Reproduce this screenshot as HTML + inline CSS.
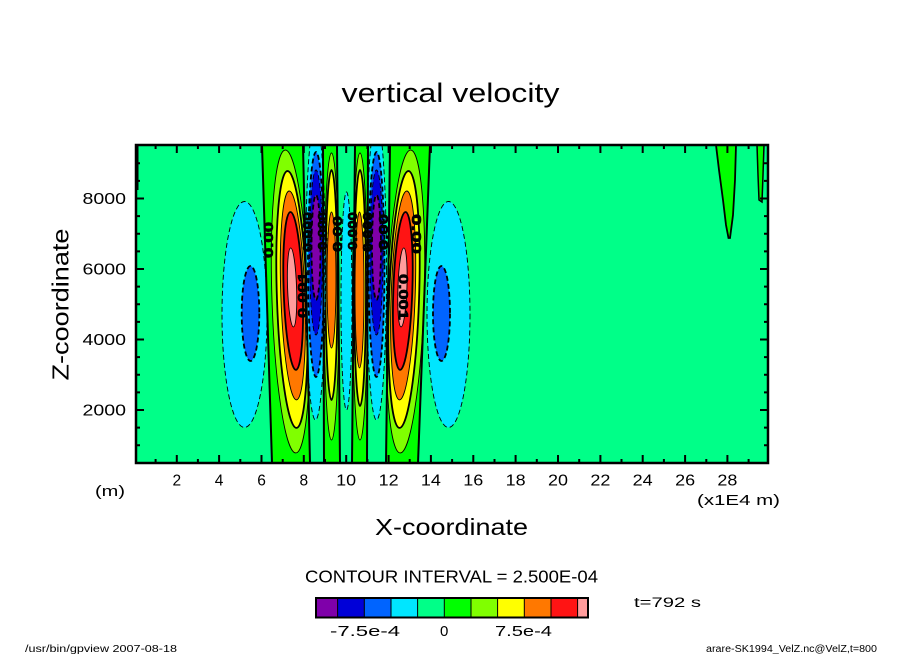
<!DOCTYPE html>
<html><head><meta charset="utf-8"><style>
html,body{margin:0;padding:0;background:#fff;}
svg{display:block;}
text{font-family:"Liberation Sans",sans-serif;fill:#000;}
</style></head><body>
<svg width="904" height="654" viewBox="0 0 904 654" xmlns="http://www.w3.org/2000/svg">
<defs><clipPath id="pc"><rect x="136" y="145" width="632" height="318"/></clipPath></defs>
<rect width="904" height="654" fill="#fff"/>
<text x="341.5" y="102" font-size="27" textLength="218" lengthAdjust="spacingAndGlyphs">vertical velocity</text>

<g clip-path="url(#pc)">
<rect x="136" y="145" width="632" height="318" fill="#00ff88"/>
<ellipse cx="244.5" cy="314.5" rx="22.5" ry="113" fill="#00e6ff" stroke="#000" stroke-width="0.9" stroke-dasharray="5,3"/>
<ellipse cx="250.5" cy="313.5" rx="8.8" ry="47.5" fill="#0064ff" stroke="#000" stroke-width="1.8" stroke-dasharray="5,3"/>
<ellipse cx="448.5" cy="314.5" rx="21.5" ry="113" fill="#00e6ff" stroke="#000" stroke-width="0.9" stroke-dasharray="5,3"/>
<ellipse cx="441.5" cy="313.5" rx="8.5" ry="47.5" fill="#0064ff" stroke="#000" stroke-width="1.8" stroke-dasharray="5,3"/>
<polygon points="262,145 303,145 310,463 272,463" fill="#00ff00"/>
<polygon points="323,145 337,145 340,463 324,463" fill="#00ff00"/>
<polygon points="355,145 368,145 367,463 352,463" fill="#00ff00"/>
<polygon points="390,145 430,145 418,463 386,463" fill="#00ff00"/>
<g transform="rotate(-2 291 300)">
<ellipse cx="290.5" cy="301.5" rx="18.5" ry="151.5" fill="#80ff00" stroke="#000" stroke-width="0.9"/>
<ellipse cx="292" cy="299.5" rx="15" ry="128.5" fill="#ffff00" stroke="#000" stroke-width="1.8"/>
<ellipse cx="293" cy="295.5" rx="12" ry="104.5" fill="#ff7800" stroke="#000" stroke-width="0.9"/>
<ellipse cx="293.5" cy="291" rx="9.5" ry="79" fill="#ff1414" stroke="#000" stroke-width="1.8"/>
<ellipse cx="292.5" cy="287.5" rx="4.5" ry="39.5" fill="#ff9c9c" stroke="#000" stroke-width="0.9"/>
</g>
<g transform="rotate(2 405 300)">
<ellipse cx="405.5" cy="301.5" rx="18.5" ry="151.5" fill="#80ff00" stroke="#000" stroke-width="0.9"/>
<ellipse cx="404" cy="299.5" rx="15" ry="128.5" fill="#ffff00" stroke="#000" stroke-width="1.8"/>
<ellipse cx="403" cy="295.5" rx="12" ry="104.5" fill="#ff7800" stroke="#000" stroke-width="0.9"/>
<ellipse cx="402.5" cy="291" rx="9.5" ry="79" fill="#ff1414" stroke="#000" stroke-width="1.8"/>
<ellipse cx="402" cy="287.5" rx="4.5" ry="39.5" fill="#ff9c9c" stroke="#000" stroke-width="0.9"/>
</g>
<ellipse cx="331.5" cy="296.5" rx="7.5" ry="143.5" fill="#80ff00" stroke="#000" stroke-width="0.9"/>
<ellipse cx="331.5" cy="285" rx="6" ry="115" fill="#ffff00" stroke="#000" stroke-width="1.8"/>
<ellipse cx="331.5" cy="280" rx="4.5" ry="68" fill="#ff7800" stroke="#000" stroke-width="0.9"/>
<ellipse cx="360" cy="296.5" rx="7.5" ry="143.5" fill="#80ff00" stroke="#000" stroke-width="0.9"/>
<ellipse cx="360" cy="288" rx="6" ry="118" fill="#ffff00" stroke="#000" stroke-width="1.8"/>
<ellipse cx="359.5" cy="290" rx="4.5" ry="78" fill="#ff7800" stroke="#000" stroke-width="0.9"/>
<ellipse cx="315.5" cy="270" rx="10" ry="150" fill="#00e6ff" stroke="#000" stroke-width="0.9" stroke-dasharray="5,3"/>
<ellipse cx="316" cy="264.5" rx="8" ry="112.5" fill="#0064ff" stroke="#000" stroke-width="1.8" stroke-dasharray="5,3"/>
<ellipse cx="316" cy="252.5" rx="6.5" ry="82.5" fill="#0000d8" stroke="#000" stroke-width="0.9" stroke-dasharray="5,3"/>
<ellipse cx="316" cy="247.5" rx="4.5" ry="52.5" fill="#7f00aa" stroke="#000" stroke-width="1.8" stroke-dasharray="5,3"/>
<ellipse cx="376.5" cy="270" rx="10" ry="150" fill="#00e6ff" stroke="#000" stroke-width="0.9" stroke-dasharray="5,3"/>
<ellipse cx="376.5" cy="264.5" rx="8" ry="112.5" fill="#0064ff" stroke="#000" stroke-width="1.8" stroke-dasharray="5,3"/>
<ellipse cx="376.5" cy="252.5" rx="6.5" ry="82.5" fill="#0000d8" stroke="#000" stroke-width="0.9" stroke-dasharray="5,3"/>
<ellipse cx="376.5" cy="247.5" rx="4.5" ry="52.5" fill="#7f00aa" stroke="#000" stroke-width="1.8" stroke-dasharray="5,3"/>
<ellipse cx="346.5" cy="301" rx="5.5" ry="109" fill="#00e6ff" stroke="#000" stroke-width="0.9" stroke-dasharray="5,3"/>
<g stroke="#000" stroke-width="2" fill="none">
<path d="M262 145L272 463M303 145L310 463M323 145L324 463M337 145L340 463M355 145L352 463M368 145L367 463M390 145L386 463M430 145L418 463"/>
<path d="M137.5 145V190"/>
</g>
<path d="M716 145L719 170L723 200L726 225L728.5 238L730 238L733 215L735 180L736 145Z" fill="#00ff00" stroke="#000" stroke-width="1.8"/>
<path d="M757 145L758 175L759 200L762 202L763 175L764 145Z" fill="#00ff00" stroke="#000" stroke-width="1.5"/>
<g font-size="13" font-weight="bold" stroke="#000" stroke-width="0.6">
<text transform="translate(273,258) rotate(-90)" textLength="36" lengthAdjust="spacingAndGlyphs">0.00</text>
<text transform="translate(307,318) rotate(-90)" textLength="46" lengthAdjust="spacingAndGlyphs">0.001</text>
<text transform="translate(399,274) rotate(90)" textLength="46" lengthAdjust="spacingAndGlyphs">0.001</text>
<text transform="translate(412,214) rotate(90)" textLength="40" lengthAdjust="spacingAndGlyphs">0.00</text>
<text transform="translate(312,252) rotate(-90)" textLength="40" lengthAdjust="spacingAndGlyphs">0.000</text>
<text transform="translate(327,250) rotate(-90)" textLength="38" lengthAdjust="spacingAndGlyphs">0.000</text>
<text transform="translate(342,252) rotate(-90)" textLength="36" lengthAdjust="spacingAndGlyphs">0.00</text>
<text transform="translate(357,250) rotate(-90)" textLength="38" lengthAdjust="spacingAndGlyphs">0.000</text>
<text transform="translate(372,252) rotate(-90)" textLength="40" lengthAdjust="spacingAndGlyphs">0.000</text>
<text transform="translate(388,250) rotate(-90)" textLength="36" lengthAdjust="spacingAndGlyphs">0.00</text>
</g>
</g>

<rect x="136" y="145" width="632" height="318" fill="none" stroke="#000" stroke-width="2.5"/>
<path stroke="#000" stroke-width="2" fill="none" d="
M155.6 463v-4M155.6 145v4M197.9 463v-4M197.9 145v4M240.3 463v-4M240.3 145v4M282.7 463v-4M282.7 145v4M325 463v-4M325 145v4M367.4 463v-4M367.4 145v4M409.7 463v-4M409.7 145v4M452.1 463v-4M452.1 145v4M494.5 463v-4M494.5 145v4M536.8 463v-4M536.8 145v4M579.2 463v-4M579.2 145v4M621.5 463v-4M621.5 145v4M663.9 463v-4M663.9 145v4M706.3 463v-4M706.3 145v4M748.6 463v-4M748.6 145v4
M176.8 463v-8M176.8 145v8M219.1 463v-8M219.1 145v8M261.5 463v-8M261.5 145v8M303.8 463v-8M303.8 145v8M346.2 463v-8M346.2 145v8M388.6 463v-8M388.6 145v8M430.9 463v-8M430.9 145v8M473.3 463v-8M473.3 145v8M515.6 463v-8M515.6 145v8M558 463v-8M558 145v8M600.4 463v-8M600.4 145v8M642.7 463v-8M642.7 145v8M685.1 463v-8M685.1 145v8M727.4 463v-8M727.4 145v8
M136 445.3h4M768 445.3h-4M136 427.6h4M768 427.6h-4M136 392.4h4M768 392.4h-4M136 374.8h4M768 374.8h-4M136 357.1h4M768 357.1h-4M136 321.9h4M768 321.9h-4M136 304.3h4M768 304.3h-4M136 286.6h4M768 286.6h-4M136 251.4h4M768 251.4h-4M136 233.8h4M768 233.8h-4M136 216.1h4M768 216.1h-4M136 180.9h4M768 180.9h-4M136 163.3h4M768 163.3h-4
M136 410h8M768 410h-8M136 339.5h8M768 339.5h-8M136 269h8M768 269h-8M136 198.5h8M768 198.5h-8"/>

<g font-size="15.5">
<text x="82.5" y="204" textLength="43.5" lengthAdjust="spacingAndGlyphs">8000</text>
<text x="82.5" y="274.5" textLength="43.5" lengthAdjust="spacingAndGlyphs">6000</text>
<text x="82.5" y="345" textLength="43.5" lengthAdjust="spacingAndGlyphs">4000</text>
<text x="82.5" y="415.5" textLength="43.5" lengthAdjust="spacingAndGlyphs">2000</text>
</g>
<g font-size="15.5" text-anchor="middle">
<text x="176.8" y="485.5">2</text>
<text x="219.1" y="485.5">4</text>
<text x="261.5" y="485.5">6</text>
<text x="303.8" y="485.5">8</text>
<text x="346.2" y="485.5" textLength="20" lengthAdjust="spacingAndGlyphs">10</text>
<text x="388.6" y="485.5" textLength="20" lengthAdjust="spacingAndGlyphs">12</text>
<text x="430.9" y="485.5" textLength="20" lengthAdjust="spacingAndGlyphs">14</text>
<text x="473.3" y="485.5" textLength="20" lengthAdjust="spacingAndGlyphs">16</text>
<text x="515.6" y="485.5" textLength="20" lengthAdjust="spacingAndGlyphs">18</text>
<text x="558" y="485.5" textLength="20" lengthAdjust="spacingAndGlyphs">20</text>
<text x="600.4" y="485.5" textLength="20" lengthAdjust="spacingAndGlyphs">22</text>
<text x="642.7" y="485.5" textLength="20" lengthAdjust="spacingAndGlyphs">24</text>
<text x="685.1" y="485.5" textLength="20" lengthAdjust="spacingAndGlyphs">26</text>
<text x="727.4" y="485.5" textLength="20" lengthAdjust="spacingAndGlyphs">28</text>
</g>
<text x="95" y="496" font-size="15" textLength="30" lengthAdjust="spacingAndGlyphs">(m)</text>
<text x="697" y="505" font-size="15" textLength="83" lengthAdjust="spacingAndGlyphs">(x1E4 m)</text>
<text x="375" y="535" font-size="23.5" textLength="153" lengthAdjust="spacingAndGlyphs">X-coordinate</text>
<text transform="translate(68.3,380.5) rotate(-90)" font-size="23.5" textLength="152" lengthAdjust="spacingAndGlyphs">Z-coordinate</text>

<text x="305" y="582.7" font-size="17.5" textLength="293" lengthAdjust="spacingAndGlyphs">CONTOUR INTERVAL = 2.500E-04</text>
<text x="634" y="607" font-size="13.5" textLength="67" lengthAdjust="spacingAndGlyphs">t=792 s</text>

<rect x="316" y="598" width="21.6" height="19.5" fill="#7f00aa"/>
<rect x="337.6" y="598" width="26.7" height="19.5" fill="#0000d8"/>
<rect x="364.3" y="598" width="26.7" height="19.5" fill="#0064ff"/>
<rect x="391" y="598" width="26.6" height="19.5" fill="#00e6ff"/>
<rect x="417.6" y="598" width="26.7" height="19.5" fill="#00ff88"/>
<rect x="444.3" y="598" width="26.7" height="19.5" fill="#00ff00"/>
<rect x="471" y="598" width="26.6" height="19.5" fill="#80ff00"/>
<rect x="497.6" y="598" width="26.7" height="19.5" fill="#ffff00"/>
<rect x="524.3" y="598" width="26.7" height="19.5" fill="#ff7800"/>
<rect x="551" y="598" width="26.6" height="19.5" fill="#ff1414"/>
<rect x="577.6" y="598" width="10.4" height="19.5" fill="#ff9c9c"/>
<path stroke="#000" stroke-width="1" d="M337.6 598v19.5M364.3 598v19.5M391 598v19.5M417.6 598v19.5M444.3 598v19.5M471 598v19.5M497.6 598v19.5M524.3 598v19.5M551 598v19.5M577.6 598v19.5"/>
<rect x="316" y="598" width="272" height="19.5" fill="none" stroke="#000" stroke-width="2"/>
<g font-size="15">
<text x="330" y="636" textLength="70" lengthAdjust="spacingAndGlyphs">-7.5e-4</text>
<text x="440" y="636">0</text>
<text x="495" y="636" textLength="57" lengthAdjust="spacingAndGlyphs">7.5e-4</text>
</g>

<text x="25" y="652" font-size="10" textLength="152" lengthAdjust="spacingAndGlyphs">/usr/bin/gpview  2007-08-18</text>
<text x="706" y="652" font-size="10" textLength="171" lengthAdjust="spacingAndGlyphs">arare-SK1994_VelZ.nc@VelZ,t=800</text>
</svg>
</body></html>
